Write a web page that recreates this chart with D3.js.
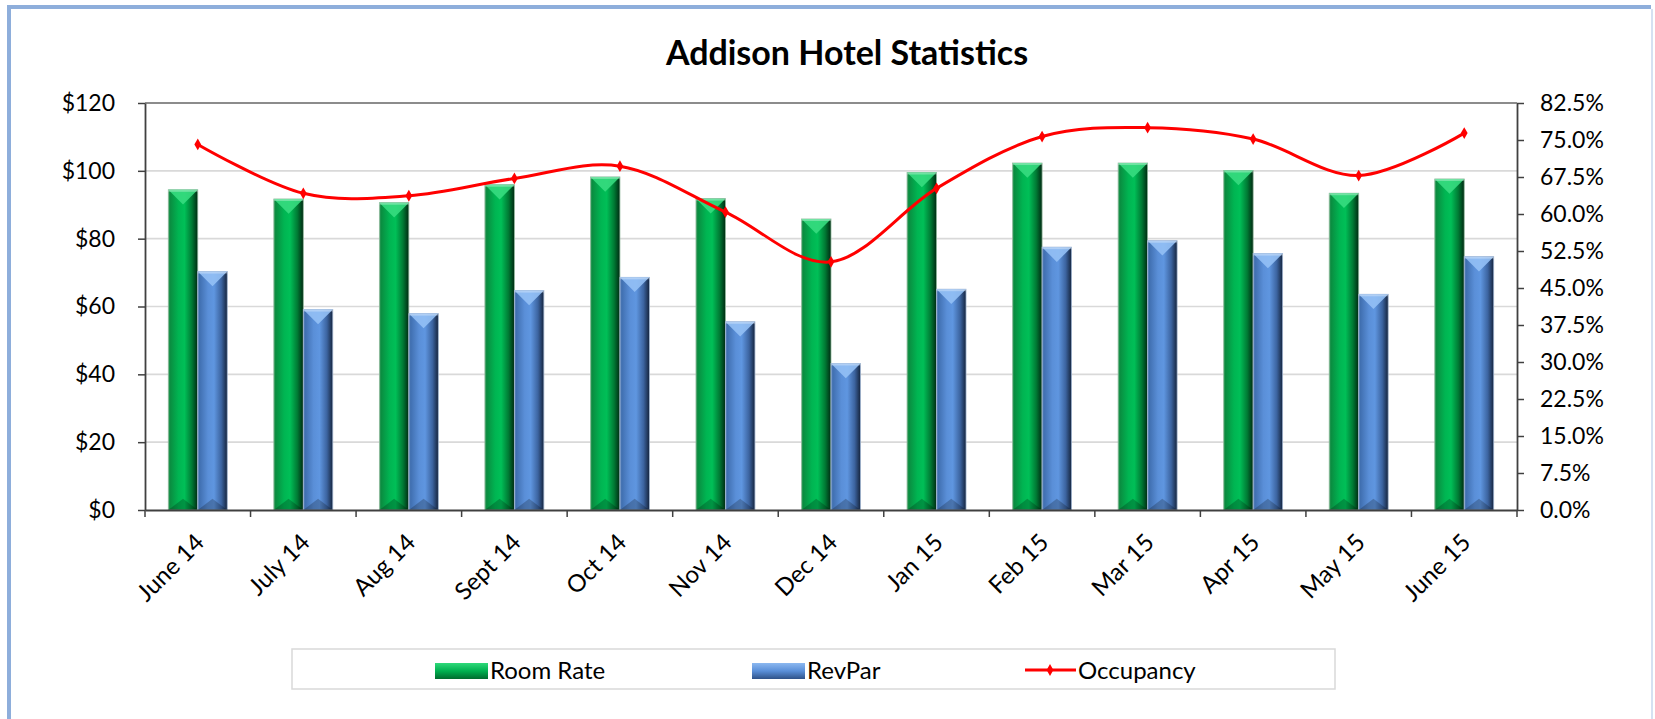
<!DOCTYPE html>
<html>
<head>
<meta charset="utf-8">
<script src="https://cdn.jsdelivr.net/npm/d3@7"></script>
<style>
  body { margin: 0; background: #fff; }
  text { font-family: Lato, "Open Sans", sans-serif; fill: #000; }
</style>
</head>
<body>
<div id="chart"></div>
<script>

// Data
var months = ["June 14", "July 14", "Aug 14", "Sept 14", "Oct 14", "Nov 14", "Dec 14",
              "Jan 15", "Feb 15", "Mar 15", "Apr 15", "May 15", "June 15"];
var roomRate  = [94.4, 91.7, 90.6, 95.9, 98.2, 91.8, 85.8, 99.5, 102.3, 102.3, 100.1, 93.4, 97.6];
var revPar    = [70.3, 59.1, 57.9, 64.7, 68.6, 55.5, 43.2, 65.1, 77.5, 79.4, 75.6, 63.6, 74.7];
var occupancy = [74.1, 64.2, 63.7, 67.2, 69.7, 60.4, 50.3, 65.2, 75.7, 77.5, 75.2, 67.8, 76.4];
var rateTicks = [0, 20, 40, 60, 80, 100, 120];
var occTicks  = [0, 7.5, 15, 22.5, 30, 37.5, 45, 52.5, 60, 67.5, 75, 82.5];
var barSeries = ["Room Rate", "RevPar"];

// set the dimensions and margins of the graph
var W = 1655, H = 719;
var margin = {top: 103, right: 138, bottom: 209, left: 145},
    width = W - margin.left - margin.right,
    height = H - margin.top - margin.bottom;

var root = d3.select("#chart")
  .append("svg")
    .attr("width", W)
    .attr("height", H);

// gradients for the bevelled bars
var defs = root.append("defs");
function hGrad(id, stops) {
  var g = defs.append("linearGradient").attr("id", id)
    .attr("x1", 0).attr("y1", 0).attr("x2", 1).attr("y2", 0);
  stops.forEach(function(s) {
    g.append("stop").attr("offset", s[0]).attr("stop-color", s[1]);
  });
}
hGrad("gGreen", [[0, "#3f9f62"], [0.06, "#0a8c40"], [0.35, "#00b552"], [0.55, "#00bf57"], [0.8, "#007a34"], [1, "#002a12"]]);
hGrad("gBlue",  [[0, "#6f93c4"], [0.06, "#406fb0"], [0.35, "#5a8fd8"], [0.55, "#5f96e0"], [0.8, "#3c64a0"], [1, "#15243d"]]);
var vg = defs.append("linearGradient").attr("id", "lgGreen").attr("x1", 0).attr("y1", 0).attr("x2", 0).attr("y2", 1);
vg.append("stop").attr("offset", 0).attr("stop-color", "#2fd97a");
vg.append("stop").attr("offset", 0.5).attr("stop-color", "#00b050");
vg.append("stop").attr("offset", 1).attr("stop-color", "#006b2e");
var vb = defs.append("linearGradient").attr("id", "lgBlue").attr("x1", 0).attr("y1", 0).attr("x2", 0).attr("y2", 1);
vb.append("stop").attr("offset", 0).attr("stop-color", "#8cb8f0");
vb.append("stop").attr("offset", 0.5).attr("stop-color", "#5a8fd8");
vb.append("stop").attr("offset", 1).attr("stop-color", "#2f5288");

var fills = {"Room Rate": "url(#gGreen)", "RevPar": "url(#gBlue)"};
var tops  = {"Room Rate": "#36db7f", "RevPar": "#93c0f5"};
var edges = {"Room Rate": "#8fb99c", "RevPar": "#9fb3cf"};

// outer frame
root.append("path")
  .attr("d", "M9," + H + "V7H1651")
  .attr("fill", "none")
  .attr("stroke", "#8eaedb")
  .attr("stroke-width", 4);
root.append("line")
  .attr("x1", 1652).attr("x2", 1652).attr("y1", 9).attr("y2", H)
  .attr("stroke", "#c7d7ee").attr("stroke-width", 1.5);

// title
root.append("text")
  .attr("x", 847)
  .attr("y", 65)
  .attr("text-anchor", "middle")
  .style("font-size", "34px")
  .style("font-weight", "bold")
  .text("Addison Hotel Statistics");

var svg = root.append("g")
  .attr("transform", "translate(" + margin.left + "," + margin.top + ")");

// scales
var x = d3.scaleBand()
  .domain(months)
  .range([0, width])
  .padding(0);
var x1 = d3.scaleBand()
  .domain(barSeries)
  .range([0, x.bandwidth()])
  .paddingOuter(0.79);
var y = d3.scaleLinear()
  .domain([0, 120])
  .range([height, 0]);
var y2 = d3.scaleLinear()
  .domain([0, 82.5])
  .range([height, 0]);

// gridlines
svg.selectAll("line.grid")
  .data(rateTicks.slice(1, -1))
  .enter()
  .append("line")
    .attr("class", "grid")
    .attr("x1", 0).attr("x2", width)
    .attr("y1", function(d) { return y(d); })
    .attr("y2", function(d) { return y(d); })
    .attr("stroke", "#d9d9d9")
    .attr("stroke-width", 1.6);
// top border of the plot area
svg.append("line")
  .attr("x1", 0).attr("x2", width)
  .attr("y1", y(120)).attr("y2", y(120))
  .attr("stroke", "#8c8c8c")
  .attr("stroke-width", 2);

// bars
var rows = months.map(function(m, i) {
  return {month: m, values: [{key: "Room Rate", v: roomRate[i]}, {key: "RevPar", v: revPar[i]}]};
});
var groups = svg.selectAll("g.month")
  .data(rows)
  .enter()
  .append("g")
    .attr("class", "month")
    .attr("transform", function(d) { return "translate(" + x(d.month) + ",0)"; });

var bars = groups.selectAll("g.bar")
  .data(function(d) { return d.values; })
  .enter()
  .append("g")
    .attr("class", "bar");

bars.append("rect")
  .attr("x", function(d) { return x1(d.key); })
  .attr("y", function(d) { return y(d.v); })
  .attr("width", x1.bandwidth())
  .attr("height", function(d) { return height - y(d.v); })
  .attr("fill", function(d) { return fills[d.key]; })
  .attr("stroke", function(d) { return edges[d.key]; })
  .attr("stroke-width", 0.8);

// bevel on top
bars.append("path")
  .attr("d", function(d) {
    var x0 = x1(d.key), w = x1.bandwidth(), t = y(d.v);
    return "M" + x0 + "," + t + "H" + (x0 + w) + "L" + (x0 + w / 2) + "," + (t + w * 0.5) + "Z";
  })
  .attr("fill", function(d) { return tops[d.key]; })
  .attr("opacity", 0.9);
bars.append("path")
  .attr("d", function(d) {
    var x0 = x1(d.key), w = x1.bandwidth(), t = y(d.v);
    return "M" + x0 + "," + t + "H" + (x0 + w) + "V" + (t + 2) + "H" + x0 + "Z";
  })
  .attr("fill", "#ffffff")
  .attr("opacity", 0.3);
// bevel at the bottom
bars.append("path")
  .attr("d", function(d) {
    var x0 = x1(d.key), w = x1.bandwidth();
    return "M" + x0 + "," + height + "H" + (x0 + w) + "L" + (x0 + w / 2) + "," + (height - w * 0.38) + "Z";
  })
  .attr("fill", "#000")
  .attr("opacity", 0.22);

// occupancy line
var line = d3.line()
  .x(function(d, i) { return x(months[i]) + x.bandwidth() / 2; })
  .y(function(d) { return y2(d); })
  .curve(d3.curveCardinal.tension(0));
svg.append("path")
  .datum(occupancy)
  .attr("d", line)
  .attr("fill", "none")
  .attr("stroke", "#ff0000")
  .attr("stroke-width", 3);
svg.selectAll("path.marker")
  .data(occupancy)
  .enter()
  .append("path")
    .attr("class", "marker")
    .attr("d", d3.symbol(d3.symbolDiamond).size(40))
    .attr("transform", function(d, i) {
      return "translate(" + (x(months[i]) + x.bandwidth() / 2) + "," + y2(d) + ")";
    })
    .attr("fill", "#ff0000");

// left axis
var yAxis = svg.append("g")
  .call(d3.axisLeft(y).tickValues(rateTicks).tickFormat(function(d) { return "$" + d; })
    .tickSize(7).tickSizeOuter(0).tickPadding(23));
// right axis
var y2Axis = svg.append("g")
  .attr("transform", "translate(" + width + ",0)")
  .call(d3.axisRight(y2).tickValues(occTicks).tickFormat(function(d) { return d3.format(".1f")(d) + "%"; })
    .tickSize(7).tickSizeOuter(0).tickPadding(16));
// X axis
var xAxis = svg.append("g")
  .attr("transform", "translate(0," + height + ")")
  .call(d3.axisBottom(x).tickSize(0).tickSizeOuter(0));
xAxis.selectAll("text")
  .attr("y", 0)
  .attr("dy", "0.35em")
  .attr("transform", "translate(2,28) rotate(-45)")
  .style("text-anchor", "end");
// x ticks sit between the categories
xAxis.selectAll("line.xtick")
  .data(months.concat(["end"]))
  .enter()
  .append("line")
    .attr("class", "xtick")
    .attr("x1", function(d) { return d === "end" ? width : x(d); })
    .attr("x2", function(d) { return d === "end" ? width : x(d); })
    .attr("y1", 0).attr("y2", 7)
    .attr("stroke", "#404040")
    .attr("stroke-width", 1.5);

[yAxis, y2Axis, xAxis].forEach(function(a) {
  a.selectAll(".domain").attr("stroke", "#404040").attr("stroke-width", 1.8);
  a.selectAll(".tick line").attr("stroke", "#404040").attr("stroke-width", 1.5);
  a.selectAll("text")
    .style("font-family", "Lato, 'Open Sans', sans-serif")
    .style("font-size", "23px")
    .attr("fill", "#000");
});
xAxis.selectAll("text").style("font-size", "24px");

// legend
var legend = root.append("g");
legend.append("rect")
  .attr("x", 292).attr("y", 649)
  .attr("width", 1043).attr("height", 40)
  .attr("fill", "#fff")
  .attr("stroke", "#d9d9d9")
  .attr("stroke-width", 1.5);
var legendItems = [
  {name: barSeries[0], x: 435, fill: "url(#lgGreen)"},
  {name: barSeries[1], x: 752, fill: "url(#lgBlue)"}
];
legendItems.forEach(function(it) {
  legend.append("rect")
    .attr("x", it.x).attr("y", 663)
    .attr("width", 53).attr("height", 16)
    .attr("fill", it.fill);
  legend.append("text")
    .attr("x", it.x + 55).attr("y", 679)
    .style("font-size", "24px")
    .text(it.name);
});
legend.append("line")
  .attr("x1", 1025).attr("x2", 1076)
  .attr("y1", 670).attr("y2", 670)
  .attr("stroke", "#ff0000")
  .attr("stroke-width", 3);
legend.append("path")
  .attr("d", d3.symbol(d3.symbolDiamond).size(40))
  .attr("transform", "translate(1050,670)")
  .attr("fill", "#ff0000");
legend.append("text")
  .attr("x", 1078).attr("y", 679)
  .style("font-size", "24px")
  .text("Occupancy");

</script>
</body>
</html>
